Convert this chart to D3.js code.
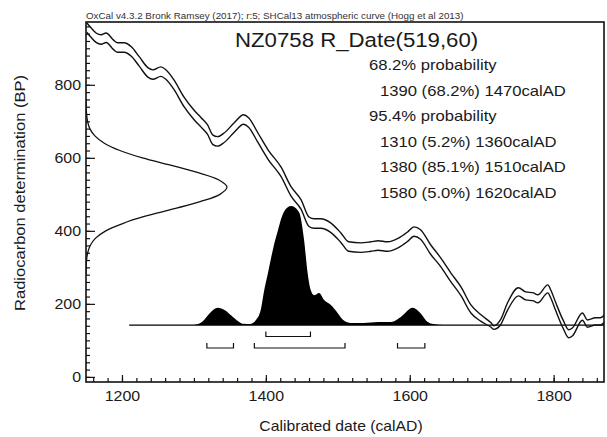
<!DOCTYPE html>
<html>
<head>
<meta charset="utf-8">
<script src="https://cdn.jsdelivr.net/npm/d3@7"></script>
<style>
  body { margin: 0; background: #fff; }
  text { font-family: "Liberation Sans", Arial, sans-serif; fill: #1a1a1a; }
</style>
</head>
<body>
<div id="chart"></div>
<script>
////////////////////////////////////////////////////////////////////////
// Data

let headerText = "OxCal v4.3.2 Bronk Ramsey (2017); r:5; SHCal13 atmospheric curve (Hogg et al 2013)";
let titleText = "NZ0758 R_Date(519,60)";
let rangeLines = [
  "68.2% probability",
  "1390 (68.2%) 1470calAD",
  "95.4% probability",
  "1310 (5.2%) 1360calAD",
  "1380 (85.1%) 1510calAD",
  "1580 (5.0%) 1620calAD"
];
let rangeIndent = [0, 1, 0, 1, 1, 1];

let xTicks = [1200, 1400, 1600, 1800];
let yTicks = [0, 200, 400, 600, 800];

// calibration curve (SHCal13), mean and 1 sigma in BP
let curveYears = [1151, 1157, 1164, 1171, 1178, 1188, 1194, 1203, 1213, 1224,
  1236, 1243, 1254, 1261, 1272, 1286, 1300, 1310, 1319, 1326,
  1333, 1342, 1356, 1369, 1376, 1389, 1403, 1421, 1435, 1449,
  1460, 1467, 1476, 1490, 1504, 1515, 1532, 1546, 1556, 1569,
  1585, 1597, 1606, 1615, 1629, 1643, 1657, 1671, 1685, 1699,
  1713, 1717, 1726, 1736, 1751, 1761, 1772, 1778, 1792, 1796,
  1803, 1813, 1821, 1826, 1840, 1847, 1858, 1865, 1871];
let curveMean = [957, 943, 929, 924, 929, 910, 902, 902, 891, 864,
  834, 828, 836, 828, 801, 754, 718, 697, 677, 650,
  645, 655, 683, 705, 697, 655, 609, 562, 508, 472,
  425, 420, 420, 409, 382, 357, 354, 357, 360, 357,
  368, 384, 398, 390, 349, 314, 273, 235, 186, 161,
  142, 135, 149, 193, 233, 222, 219, 214, 241, 227,
  192, 145, 118, 123, 165, 146, 152, 152, 160];
let curveSigma = [13, 13, 13, 13, 13, 13, 13, 13, 13, 13,
  13, 13, 13, 13, 13, 13, 13, 13, 13, 13,
  13, 13, 13, 13, 13, 13, 13, 13, 13, 13,
  13, 13, 13, 13, 13, 13, 13, 13, 13, 13,
  13, 13, 13, 13, 13, 12, 12, 12, 11, 9,
  6, 5, 7, 10, 11, 11, 11, 11, 11, 11,
  11, 11, 11, 11, 10, 10, 10, 10, 10];

// measurement R_Date(519,60): relative likelihood at each BP value
let dateBP = [280, 300, 320, 340, 360, 380, 400, 420, 440, 460, 480, 500, 520,
  540, 560, 580, 600, 620, 640, 660, 680, 700, 720, 740, 760];
let dateProb = [0.0004, 0.0013, 0.004, 0.012, 0.03, 0.068, 0.14, 0.26, 0.42, 0.62, 0.81, 0.95, 1.0,
  0.94, 0.79, 0.6, 0.4, 0.24, 0.13, 0.063, 0.027, 0.011, 0.004, 0.0011, 0.0003];

// calibrated probability distribution (relative to peak)
let calYears = [1300, 1312, 1322, 1333, 1343, 1352, 1361, 1369, 1378, 1386,
  1393, 1397, 1403, 1410, 1417, 1425, 1435, 1446, 1453, 1458,
  1462, 1467, 1474, 1481, 1490, 1500, 1508, 1518, 1536, 1556,
  1574, 1588, 1604, 1615, 1625, 1633, 1647];
let calProb = [0, 0.03, 0.1, 0.145, 0.125, 0.08, 0.035, 0.01, 0.008, 0.04,
  0.13, 0.27, 0.44, 0.64, 0.8, 0.95, 1.0, 0.95, 0.72, 0.44,
  0.3, 0.25, 0.27, 0.21, 0.17, 0.1, 0.04, 0.017, 0.017, 0.025,
  0.025, 0.07, 0.145, 0.1, 0.025, 0.008, 0];
let calBaseStart = 1210;

// highest posterior density ranges
let range68 = [[1400, 1462]];
let range95 = [[1318, 1355], [1384, 1510], [1583, 1621]];

////////////////////////////////////////////////////////////////////////
// Canvas and scales

let width = 607;
let height = 437;
let plotLeft = 86, plotRight = 604, plotTop = 22, plotBottom = 382;
let stretch = 1.14;   // OxCal text is wider than Arial

let svg = d3.select("#chart")
  .append("svg")
  .attr("width", width).attr("height", height);

let xScale = d3.scaleLinear().domain([1150, 1870]).range([plotLeft, plotRight]);
let yScale = d3.scaleLinear().domain([-14, 972]).range([plotBottom, plotTop]);
let calScale = d3.scaleLinear().domain([0, 1]).range([0, 119]);
let dateScale = d3.scaleLinear().domain([0, 1]).range([0, 141]);
let baseY = yScale(142);

svg.append("clipPath").attr("id", "plotclip")
  .append("rect")
  .attr("x", plotLeft).attr("y", plotTop)
  .attr("width", plotRight - plotLeft).attr("height", plotBottom - plotTop);

let plot = svg.append("g").attr("clip-path", "url(#plotclip)");

// calibrated distribution, filled black
let calData = calYears.map((d, i) => [d, calProb[i]]);
plot.append("path")
  .datum(calData)
  .attr("fill", "#000")
  .attr("d", d3.area()
    .x(d => xScale(d[0]))
    .y0(baseY)
    .y1(d => baseY - calScale(d[1]))
    .curve(d3.curveMonotoneX));

plot.append("line")
  .attr("x1", xScale(calBaseStart)).attr("x2", plotRight)
  .attr("y1", baseY).attr("y2", baseY)
  .attr("stroke", "#000").attr("stroke-width", 1.2);

// calibration curve, upper and lower 1 sigma lines
let curveData = curveYears.map((d, i) => ({ year: d, mean: curveMean[i], sd: curveSigma[i] }));
[1, -1].forEach(function (s) {
  plot.append("path")
    .datum(curveData)
    .attr("fill", "none")
    .attr("stroke", "#111")
    .attr("stroke-width", 1.4)
    .attr("d", d3.line()
      .x(d => xScale(d.year))
      .y(d => yScale(d.mean + s * d.sd))
      .curve(d3.curveMonotoneX));
});

// measurement gaussian on the y axis
let dateData = dateBP.map((d, i) => [d, dateProb[i]]);
plot.append("path")
  .datum(dateData)
  .attr("fill", "none")
  .attr("stroke", "#111")
  .attr("stroke-width", 1.3)
  .attr("d", d3.line()
    .x(d => plotLeft + dateScale(d[1]))
    .y(d => yScale(d[0]))
    .curve(d3.curveCatmullRom));

// range brackets
function drawBrackets(ranges, yy) {
  svg.append("g").selectAll("path")
    .data(ranges)
    .enter()
    .append("path")
    .attr("fill", "none")
    .attr("stroke", "#111")
    .attr("stroke-width", 1.2)
    .attr("d", d => "M" + xScale(d[0]) + "," + (yy - 5) + "V" + yy + "H" + xScale(d[1]) + "V" + (yy - 5));
}
drawBrackets(range68, 336.5);
drawBrackets(range95, 348);

////////////////////////////////////////////////////////////////////////
// Axes with inward ticks

let yMinor = d3.range(0, 972, 20);
let xMinor = d3.range(1160, 1870, 20);

svg.append("g")
  .attr("transform", "translate(" + plotLeft + ",0)")
  .call(d3.axisLeft(yScale).tickValues(yMinor).tickSize(-4).tickSizeOuter(0).tickFormat(""))
  .call(g => g.select(".domain").remove());

let yAxis = svg.append("g")
  .attr("transform", "translate(" + plotLeft + ",0)")
  .call(d3.axisLeft(yScale).tickValues(yTicks).tickSize(-9).tickSizeOuter(0).tickPadding(5))
  .call(g => g.select(".domain").remove());

svg.append("g")
  .attr("transform", "translate(0," + plotBottom + ")")
  .call(d3.axisBottom(xScale).tickValues(xMinor).tickSize(-4).tickSizeOuter(0).tickFormat(""))
  .call(g => g.select(".domain").remove());

let xAxis = svg.append("g")
  .attr("transform", "translate(0," + plotBottom + ")")
  .call(d3.axisBottom(xScale).tickValues(xTicks).tickSize(-7).tickSizeOuter(0).tickPadding(9.5).tickFormat(d3.format("d")))
  .call(g => g.select(".domain").remove());

svg.selectAll(".tick line").attr("stroke", "#111").attr("stroke-width", 1.2);

yAxis.selectAll("text")
  .attr("font-family", null).attr("font-size", 14)
  .attr("x", -5 / stretch)
  .attr("transform", "scale(" + stretch + ",1)");
xAxis.selectAll("text")
  .attr("font-family", null).attr("font-size", 14)
  .attr("transform", "scale(" + stretch + ",1)");

// frame
svg.append("rect")
  .attr("x", plotLeft).attr("y", plotTop)
  .attr("width", plotRight - plotLeft).attr("height", plotBottom - plotTop)
  .attr("fill", "none")
  .attr("stroke", "#111")
  .attr("stroke-width", 1.6);

////////////////////////////////////////////////////////////////////////
// Texts

function addText(x, y, str, size, anchor, extra) {
  return svg.append("text")
    .attr("transform", "translate(" + x + "," + y + ")" + (extra || "") + " scale(" + stretch + ",1)")
    .attr("font-size", size)
    .attr("text-anchor", anchor || "start")
    .text(str);
}

addText(plotLeft, 18.5, headerText, 8.6, "start").style("fill", "#333");
addText(235, 47, titleText, 19.5, "start");

rangeLines.forEach(function (s, i) {
  addText(rangeIndent[i] ? 380 : 369, 70 + i * 25.5, s, 14.6, "start");
});

addText(341, 431, "Calibrated date (calAD)", 13.8, "middle");
addText(25, 193, "Radiocarbon determination (BP)", 14.5, "middle", " rotate(-90)");
</script>
</body>
</html>
